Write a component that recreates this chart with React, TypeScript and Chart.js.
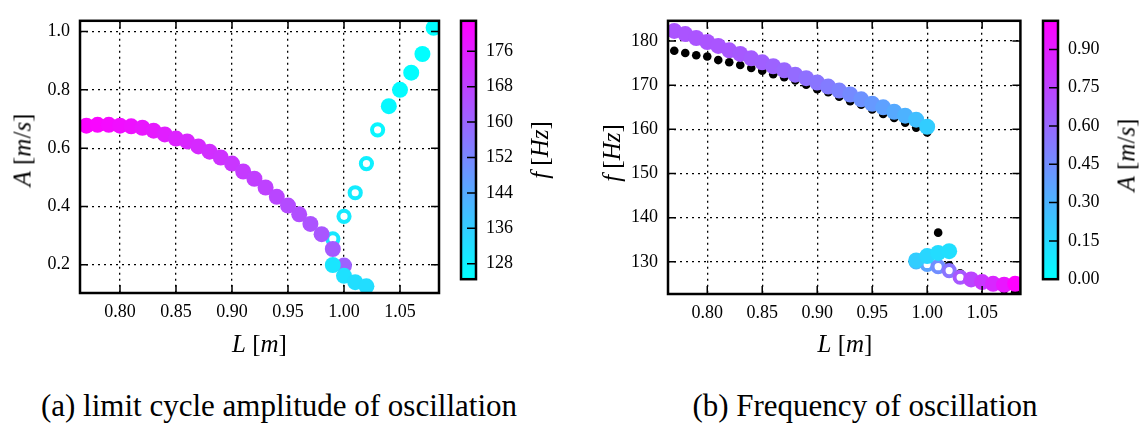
import React, { useEffect, useRef } from 'react';
import { Chart, registerables } from 'chart.js';

Chart.register(...registerables);

// ---------- data ----------
// stable main branch (low L)
const L_MAIN = [0.77, 0.78, 0.79, 0.80, 0.81, 0.82, 0.83, 0.84, 0.85, 0.86, 0.87, 0.88, 0.89, 0.90, 0.91, 0.92, 0.93, 0.94, 0.95, 0.96, 0.97, 0.98, 0.99, 1.00];
const A_MAIN = [0.677, 0.68, 0.68, 0.677, 0.675, 0.67, 0.66, 0.647, 0.633, 0.623, 0.606, 0.588, 0.568, 0.547, 0.52, 0.495, 0.465, 0.433, 0.403, 0.373, 0.34, 0.305, 0.254, 0.197];
const F_MAIN = [182.3, 181.6, 180.7, 179.8, 178.9, 177.9, 177.1, 176.1, 175.2, 174.3, 173.4, 172.4, 171.6, 170.6, 169.7, 168.8, 167.9, 166.8, 165.8, 165.0, 164.0, 163.1, 162.2, 160.6];
// stable low-amplitude branch
const L_LOW = [0.99, 1.00, 1.01, 1.02];
const A_LOW = [0.199, 0.162, 0.14, 0.126];
const F_LOW = [130.3, 131.3, 132.0, 132.4];
// stable high-amplitude branch
const L_HIGH = [1.04, 1.05, 1.06, 1.07, 1.08];
const A_HIGH = [0.744, 0.80, 0.859, 0.923, 1.013];
const F_HIGH = [126.0, 125.4, 125.0, 124.8, 125.0];
// unstable branch (open circles)
const L_UNST = [0.99, 1.00, 1.01, 1.02, 1.03];
const A_UNST = [0.289, 0.366, 0.447, 0.547, 0.663];
const F_UNST = [130.0, 129.4, 128.9, 128.0, 126.5];
// linear frequency (black dots)
const L_LIN = [0.77, 0.78, 0.79, 0.80, 0.81, 0.82, 0.83, 0.84, 0.85, 0.86, 0.87, 0.88, 0.89, 0.90, 0.91, 0.92, 0.93, 0.94, 0.95, 0.96, 0.97, 0.98, 0.99, 1.00, 1.01, 1.02, 1.03, 1.04, 1.05, 1.06, 1.07, 1.08];
const F_LIN = [177.8, 177.3, 176.8, 176.5, 175.7, 175.2, 174.6, 173.9, 173.3, 172.5, 171.8, 171.1, 170.1, 169.1, 168.4, 167.4, 166.4, 165.6, 164.5, 163.5, 162.6, 161.5, 160.4, 159.3, 136.6, 129.2, 127.4, 126.4, 125.4, 124.5, 123.7, 123.1];

// ticks
const L_TICKS = [0.80, 0.85, 0.90, 0.95, 1.00, 1.05];
const A_TICKS = [0.2, 0.4, 0.6, 0.8, 1.0];
const F_TICKS = [130, 140, 150, 160, 170, 180];
const CB_F_TICKS = [128, 136, 144, 152, 160, 168, 176];
const CB_A_TICKS = [0.00, 0.15, 0.30, 0.45, 0.60, 0.75, 0.90];

// axis / colour limits
const L_MIN = 0.7643, L_MAX = 1.0848;
const A_MIN = 0.103, A_MAX = 1.037;
const F_MIN = 122.7, F_MAX = 184.6;
const CF_MIN = 124.5, CF_MAX = 182.9;
const CA_MIN = 0.0, CA_MAX = 1.012;

const SERIF = '"Liberation Serif", "Times New Roman", serif';

function cool(v: number, lo: number, hi: number) {
  const t = Math.min(1, Math.max(0, (v - lo) / (hi - lo)));
  return `rgb(${Math.round(255 * t)},${Math.round(255 * (1 - t))},255)`;
}

const pts = (xs: number[], ys: number[]) => xs.map((x, i) => ({ x, y: ys[i] }));

const frameTicks = {
  id: 'frameTicks',
  afterDatasetsDraw(chart: any) {
    const { ctx, chartArea: a, scales } = chart;
    const len = 8;
    ctx.save();
    ctx.strokeStyle = '#000';
    ctx.lineWidth = 1.5;
    ctx.setLineDash([]);
    ctx.beginPath();
    for (const t of scales.x.ticks) {
      const p = scales.x.getPixelForValue(t.value);
      ctx.moveTo(p, a.bottom); ctx.lineTo(p, a.bottom - len);
      ctx.moveTo(p, a.top); ctx.lineTo(p, a.top + len);
    }
    for (const t of scales.y.ticks) {
      const p = scales.y.getPixelForValue(t.value);
      ctx.moveTo(a.left, p); ctx.lineTo(a.left + len, p);
      ctx.moveTo(a.right, p); ctx.lineTo(a.right - len, p);
    }
    ctx.stroke();
    ctx.lineWidth = 2.5;
    ctx.strokeRect(a.left, a.top, a.right - a.left, a.bottom - a.top);
    ctx.restore();
  },
};

const cbarFrame = {
  id: 'cbarFrame',
  afterDatasetsDraw(chart: any) {
    const { ctx, chartArea: a, scales } = chart;
    ctx.save();
    ctx.strokeStyle = '#000';
    ctx.lineWidth = 1.5;
    ctx.beginPath();
    for (const t of scales.y.ticks) {
      const p = scales.y.getPixelForValue(t.value);
      ctx.moveTo(a.right, p); ctx.lineTo(a.right - 9, p);
    }
    ctx.stroke();
    ctx.lineWidth = 2.5;
    ctx.strokeRect(a.left, a.top, a.right - a.left, a.bottom - a.top);
    ctx.restore();
  },
};

type Box = { left: number; top: number; width: number; height: number; padTop: number; padRight: number; yW: number; xH: number };

function ScatterPlot({ box, datasets, yMin, yMax, yTicks, yFmt }: any) {
  const ref = useRef<HTMLCanvasElement>(null);
  useEffect(() => {
    const b: Box = box;
    const chart = new Chart(ref.current!, {
      type: 'scatter',
      data: { datasets },
      options: {
        animation: false,
        responsive: false,
        devicePixelRatio: 1,
        events: [],
        layout: { padding: { left: 0, top: b.padTop, right: b.padRight, bottom: 0 } },
        plugins: { legend: { display: false }, tooltip: { enabled: false } },
        scales: {
          x: {
            type: 'linear', min: L_MIN, max: L_MAX,
            afterBuildTicks: (s: any) => { s.ticks = L_TICKS.map((v) => ({ value: v })); },
            afterFit: (s: any) => { s.height = b.xH; },
            grid: { color: '#000', lineWidth: 1.3, drawTicks: false },
            border: { display: false, dash: [2, 4] },
            ticks: { padding: 8, autoSkip: false, maxRotation: 0, color: '#000', font: { family: SERIF, size: 18 }, callback: (v: any) => Number(v).toFixed(2) },
          },
          y: {
            type: 'linear', min: yMin, max: yMax,
            afterBuildTicks: (s: any) => { s.ticks = yTicks.map((v: number) => ({ value: v })); },
            afterFit: (s: any) => { s.width = b.yW; },
            grid: { color: '#000', lineWidth: 1.3, drawTicks: false },
            border: { display: false, dash: [2, 4] },
            ticks: { padding: 10, autoSkip: false, color: '#000', font: { family: SERIF, size: 18 }, callback: yFmt },
          },
        },
      } as any,
      plugins: [frameTicks],
    });
    return () => chart.destroy();
  }, []);
  return (
    <canvas ref={ref} width={box.width} height={box.height}
      style={{ position: 'absolute', left: box.left, top: box.top, width: box.width, height: box.height }} />
  );
}

function Colorbar({ box, min, max, ticks, fmt }: any) {
  const ref = useRef<HTMLCanvasElement>(null);
  useEffect(() => {
    const chart = new Chart(ref.current!, {
      type: 'bar',
      data: {
        labels: [''],
        datasets: [{
          data: [[min, max]] as any,
          backgroundColor: (c: any) => {
            const ch = c.chart;
            if (!ch.chartArea) return 'rgb(0,255,255)';
            const y = ch.scales.y;
            const g = ch.ctx.createLinearGradient(0, y.getPixelForValue(min), 0, y.getPixelForValue(max));
            g.addColorStop(0, 'rgb(0,255,255)');
            g.addColorStop(1, 'rgb(255,0,255)');
            return g;
          },
          borderWidth: 0,
          barPercentage: 1,
          categoryPercentage: 1,
        }],
      },
      options: {
        animation: false,
        responsive: false,
        devicePixelRatio: 1,
        events: [],
        layout: { padding: { left: box.padLeft, top: box.padTop, bottom: box.padBottom, right: 0 } },
        plugins: { legend: { display: false }, tooltip: { enabled: false } },
        scales: {
          x: { display: false },
          y: {
            position: 'right', min, max,
            afterBuildTicks: (s: any) => { s.ticks = ticks.map((v: number) => ({ value: v })); },
            afterFit: (s: any) => { s.width = box.yW; },
            grid: { display: false, drawTicks: false },
            border: { display: false },
            ticks: { padding: 10, autoSkip: false, color: '#000', font: { family: SERIF, size: 18 }, callback: fmt },
          },
        },
      } as any,
      plugins: [cbarFrame],
    });
    return () => chart.destroy();
  }, []);
  return (
    <canvas ref={ref} width={box.width} height={box.height}
      style={{ position: 'absolute', left: box.left, top: box.top, width: box.width, height: box.height }} />
  );
}

function Label({ x, y, size, rot, children }: any) {
  return (
    <div style={{
      position: 'absolute', left: x, top: y, whiteSpace: 'nowrap',
      transform: `translate(-50%, -50%)${rot ? ' rotate(-90deg)' : ''}`,
      fontFamily: SERIF, fontSize: size, color: '#000', lineHeight: 1,
    }}>{children}</div>
  );
}

const AUnit = () => (<span><i>A</i>&nbsp;[<i>m</i>/<i>s</i>]</span>);
const FUnit = () => (<span><i>f</i>&nbsp;[<i>Hz</i>]</span>);
const LUnit = () => (<span><i>L</i>&nbsp;[<i>m</i>]</span>);

export default function App() {
  const R = 8;
  const RO = 5.6;
  const BO = 4;
  const leftSets = [
    { data: pts(L_LOW, A_LOW), pointRadius: R, pointBorderWidth: 0, pointBackgroundColor: F_LOW.map((f) => cool(f, CF_MIN, CF_MAX)), clip: 0 },
    { data: pts(L_HIGH, A_HIGH), pointRadius: R, pointBorderWidth: 0, pointBackgroundColor: F_HIGH.map((f) => cool(f, CF_MIN, CF_MAX)), clip: 0 },
    { data: pts(L_MAIN, A_MAIN), pointRadius: R, pointBorderWidth: 0, pointBackgroundColor: F_MAIN.map((f) => cool(f, CF_MIN, CF_MAX)), clip: 0 },
    { data: pts(L_UNST, A_UNST), pointRadius: RO, pointBorderWidth: BO, pointBackgroundColor: '#fff', pointBorderColor: F_UNST.map((f) => cool(f, CF_MIN, CF_MAX)), clip: 0 },
  ];
  const rightSets = [
    { data: pts(L_LOW, F_LOW), pointRadius: R, pointBorderWidth: 0, pointBackgroundColor: A_LOW.map((a) => cool(a, CA_MIN, CA_MAX)), clip: 0 },
    { data: pts(L_HIGH, F_HIGH), pointRadius: R, pointBorderWidth: 0, pointBackgroundColor: A_HIGH.map((a) => cool(a, CA_MIN, CA_MAX)), clip: 0 },
    { data: pts(L_MAIN, F_MAIN), pointRadius: R, pointBorderWidth: 0, pointBackgroundColor: A_MAIN.map((a) => cool(a, CA_MIN, CA_MAX)), clip: 0 },
    { data: pts(L_UNST, F_UNST), pointRadius: RO, pointBorderWidth: BO, pointBackgroundColor: '#fff', pointBorderColor: A_UNST.map((a) => cool(a, CA_MIN, CA_MAX)), clip: 0 },
    { data: pts(L_LIN, F_LIN), pointRadius: 4.3, pointBorderWidth: 0, pointBackgroundColor: '#000', clip: 0 },
  ];

  return (
    <div style={{ position: 'absolute', left: 0, top: 0, width: 1142, height: 427, background: '#fff', overflow: 'hidden' }}>
      <ScatterPlot
        box={{ left: 0, top: 0, width: 451, height: 372, padTop: 6, padRight: 12, yW: 80, xH: 79 }}
        datasets={leftSets} yMin={A_MIN} yMax={A_MAX} yTicks={A_TICKS}
        yFmt={(v: any) => Number(v).toFixed(1)} />
      <Colorbar
        box={{ left: 455, top: 0, width: 90, height: 300, padLeft: 6, padTop: 6, padBottom: 7, yW: 69 }}
        min={CF_MIN} max={CF_MAX} ticks={CB_F_TICKS} fmt={(v: any) => String(Math.round(Number(v)))} />
      <ScatterPlot
        box={{ left: 590, top: 0, width: 440, height: 372, padTop: 12, padRight: 8, yW: 78, xH: 78 }}
        datasets={rightSets} yMin={F_MIN} yMax={F_MAX} yTicks={F_TICKS}
        yFmt={(v: any) => String(Math.round(Number(v)))} />
      <Colorbar
        box={{ left: 1037, top: 0, width: 100, height: 300, padLeft: 6, padTop: 12, padBottom: 5, yW: 79 }}
        min={CA_MIN} max={CA_MAX} ticks={CB_A_TICKS} fmt={(v: any) => Number(v).toFixed(2)} />

      <Label x={21.5} y={149.5} size={25} rot><AUnit /></Label>
      <Label x={259.5} y={343} size={25}><LUnit /></Label>
      <Label x={539} y={150} size={25} rot><FUnit /></Label>
      <Label x={611} y={153} size={25} rot><FUnit /></Label>
      <Label x={845} y={343} size={25}><LUnit /></Label>
      <Label x={1126} y={155} size={25} rot><AUnit /></Label>

      <Label x={279} y={405} size={31}>(a) limit cycle amplitude of oscillation</Label>
      <Label x={865} y={405} size={31}>(b) Frequency of oscillation</Label>
    </div>
  );
}
